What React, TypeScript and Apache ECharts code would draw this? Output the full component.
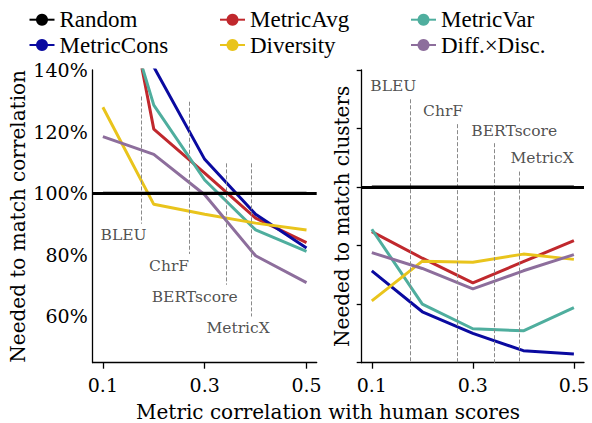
import React, { useEffect, useRef } from "react";
import * as echarts from "echarts";

// ---- data ----
const xValues = [0.1, 0.2, 0.3, 0.4, 0.5];
const xTickValues = [0.1, 0.3, 0.5];
const yTickValuesLeft = [60, 80, 100, 120, 140];

const seriesNames = ["Random", "MetricAvg", "MetricVar", "MetricCons", "Diversity", "Diff.×Disc."];
const randomLevel = 100;

// left panel: needed to match correlation (%)
const corrRandom = [100, 100, 100, 100, 100];
const corrMetricAvg = [206, 120.8, 106.5, 91.9, 84.0];
const corrMetricVar = [183, 128.6, 104.3, 88.1, 81.1];
const corrMetricCons = [210, 141, 111.0, 93.2, 82.2];
const corrDiversity = [127.9, 96.4, 93.2, 90.3, 88.1];
const corrDiffDisc = [118.4, 112.6, 99.5, 79.7, 71.0];

// right panel: needed to match clusters (%)
const clusRandom = [100, 100, 100, 100, 100];
const clusMetricAvg = [84.8, 75.7, 67.3, 74.5, 81.7];
const clusMetricVar = [85.6, 60.0, 51.6, 50.9, 58.8];
const clusMetricCons = [71.4, 57.4, 50.0, 44.1, 43.0];
const clusDiversity = [61.1, 74.7, 74.3, 77.1, 75.3];
const clusDiffDisc = [77.6, 72.2, 65.2, 71.4, 76.9];

// reference metrics and their correlation with human scores
const metricNames = ["BLEU", "ChrF", "BERTscore", "MetricX"];
const metricCorr = [0.176, 0.27, 0.343, 0.391];

// ---- layout / style ----
const colors: Record<string, string> = {
  "Random": "#000000",
  "MetricAvg": "#c0282d",
  "MetricVar": "#4fae9e",
  "MetricCons": "#0a0aa0",
  "Diversity": "#e9c41c",
  "Diff.×Disc.": "#8d6e9c",
};
// dashed segment extents [top, bottom] in axis units
const leftDashExtent = [[131.4, 90.1], [129.7, 80.3], [109.7, 70.3], [109.7, 60]];
const rightDashExtent = [[130, 40], [121.5, 40], [115, 40], [105.3, 40]];
// label anchor positions [x, y] in axis units
const leftLabelPos = [[0.1407, 86.3], [0.230, 76.3], [0.2803, 66.4], [0.3656, 56.4]];
const rightLabelPos = [[0.1426, 134.5], [0.241, 126], [0.382, 119.3], [0.437, 109.8]];

const SERIF = '"DejaVu Serif"';
const LEGEND_FONT = '"Liberation Serif"';

export default function App() {
  const ref = useRef<HTMLDivElement>(null);
  useEffect(() => {
    if (!ref.current) return;
    const chart = echarts.init(ref.current, null, { renderer: "svg" });

    const corr = [corrRandom, corrMetricAvg, corrMetricVar, corrMetricCons, corrDiversity, corrDiffDisc];
    const clus = [clusRandom, clusMetricAvg, clusMetricVar, clusMetricCons, clusDiversity, clusDiffDisc];

    const series: any[] = [];
    const mkDash = (idx: number, ext: number[][], pos: number[][]) => {
      series.push({
        type: "line",
        xAxisIndex: idx,
        yAxisIndex: idx,
        data: [],
        silent: true,
        z: 1,
        markLine: {
          silent: true,
          symbol: ["none", "none"],
          label: { show: false },
          lineStyle: { color: "#8a8a8a", type: [4, 2], width: 1 },
          data: metricCorr.map((c, i) => [
            { coord: [c, ext[i][0]] },
            { coord: [c, ext[i][1]] },
          ]),
        },
      });
      series.push({
        type: "scatter",
        xAxisIndex: idx,
        yAxisIndex: idx,
        symbolSize: 0,
        silent: true,
        z: 1,
        data: metricNames.map((n, i) => ({ name: n, value: [pos[i][0], pos[i][1]] })),
        label: {
          show: true,
          position: "inside",
          formatter: (p: any) => p.name,
          fontFamily: SERIF,
          fontSize: 15.5,
          color: "#222",
        },
      });
    };
    mkDash(0, leftDashExtent, leftLabelPos);
    mkDash(1, rightDashExtent, rightLabelPos);

    const order = [1, 2, 3, 4, 5, 0];
    order.forEach((k) => {
      const name = seriesNames[k];
      [corr[k], clus[k]].forEach((vals, idx) => {
        const s: any = {
          type: "line",
          name,
          xAxisIndex: idx,
          yAxisIndex: idx,
          symbol: "circle",
          showSymbol: false,
          clip: true,
          z: k === 0 ? 5 : 3,
          color: colors[name],
          lineStyle: { width: 3, color: colors[name] },
          itemStyle: { color: colors[name] },
          data: xValues.map((x, i) => [x, vals[i]]),
        };
        if (k === 0) {
          s.markLine = {
            silent: true,
            symbol: ["none", "none"],
            label: { show: false },
            lineStyle: { color: colors[name], width: 3, type: "solid" },
            data: [{ yAxis: randomLevel }],
          };
        }
        series.push(s);
      });
    });

    const legendPos = [
      { name: "Random", left: 28.5, top: 7.7 },
      { name: "MetricAvg", left: 219, top: 7.7 },
      { name: "MetricVar", left: 410, top: 7.7 },
      { name: "MetricCons", left: 28.5, top: 33 },
      { name: "Diversity", left: 219, top: 33 },
      { name: "Diff.×Disc.", left: 410, top: 33 },
    ];

    const axisLine = { show: true, lineStyle: { color: "#000", width: 1.3 } };
    const xAxisCommon = {
      type: "value",
      min: 0.08,
      max: 0.52,
      splitLine: { show: false },
      axisLine,
      axisTick: { show: true, length: 6, customValues: xTickValues, lineStyle: { color: "#000", width: 1.3 } },
      axisLabel: {
        customValues: xTickValues,
        fontFamily: SERIF,
        fontSize: 19,
        color: "#000",
        margin: 13,
        formatter: (v: number) => v.toFixed(1),
      },
    };

    chart.setOption({
      animation: false,
      backgroundColor: "#fff",
      legend: legendPos.map((l) => ({
        data: [l.name],
        left: l.left,
        top: l.top,
        padding: 0,
        itemWidth: 25,
        itemHeight: 15,
        selectedMode: false,
        textStyle: { fontFamily: LEGEND_FONT, fontSize: 23, color: "#000", lineHeight: 24 },
      })),
      grid: [
        { left: 92.7, top: 70, width: 224, height: 292.7 },
        { left: 361.7, top: 70, width: 224, height: 292.7 },
      ],
      xAxis: [
        { ...xAxisCommon, gridIndex: 0 },
        { ...xAxisCommon, gridIndex: 1 },
      ],
      yAxis: [
        {
          type: "value",
          gridIndex: 0,
          min: 45,
          max: 140,
          splitLine: { show: false },
          axisLine,
          axisTick: { show: false },
          axisLabel: {
            customValues: yTickValuesLeft,
            fontFamily: SERIF,
            fontSize: 19,
            color: "#000",
            margin: 5,
            formatter: (v: number) => `${v}%`,
          },
          name: "Needed to match correlation",
          nameLocation: "middle",
          nameGap: 64.7,
          nameTextStyle: { fontFamily: SERIF, fontSize: 20, color: "#000" },
        },
        {
          type: "value",
          gridIndex: 1,
          min: 40,
          max: 140,
          interval: 20,
          splitLine: { show: false },
          axisLine,
          axisTick: { show: true, length: 5, lineStyle: { color: "#000", width: 1.3 } },
          axisLabel: { show: false },
          name: "Needed to match clusters",
          nameLocation: "middle",
          nameGap: 10,
          nameTextStyle: { fontFamily: SERIF, fontSize: 20, color: "#000" },
        },
      ],
      graphic: [
        {
          type: "text",
          x: 328,
          y: 412,
          style: {
            text: "Metric correlation with human scores",
            font: `20px ${SERIF}`,
            fill: "#000",
            textAlign: "center",
            textVerticalAlign: "middle",
          },
        },
      ],
      series,
    });
    return () => chart.dispose();
  }, []);
  return (
    <div
      ref={ref}
      style={{ position: "absolute", left: 0, top: 0, width: 592, height: 423 }}
    />
  );
}
